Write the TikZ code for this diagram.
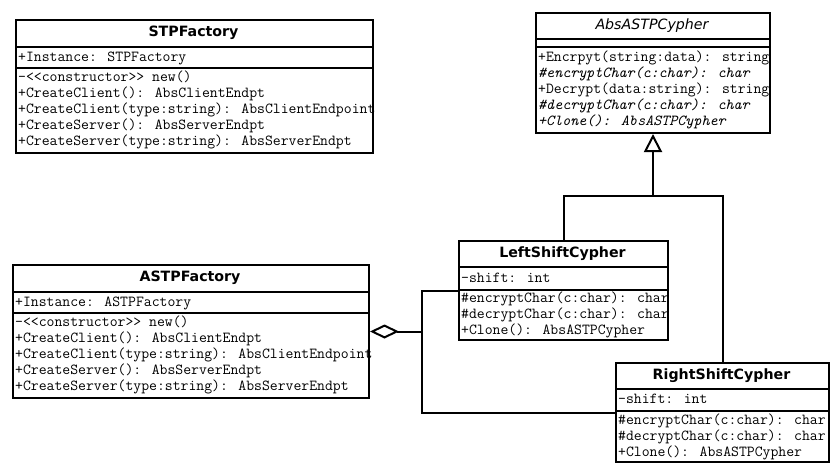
\documentclass[tikz,border=0pt]{standalone}
\usepackage{fontspec}
\usetikzlibrary{arrows.meta}
\newfontfamily\titlefont{DejaVu Sans}
\newcommand{\memfont}{\fontsize{15.3}{16}\selectfont\ttfamily}

\tikzset{
  classbox/.style={draw, line width=2pt, anchor=north west, inner sep=0pt, fill=white},
  classname/.style={font=\fontsize{14.2}{16}\selectfont\titlefont\bfseries, inner sep=0pt},
  absname/.style={font=\fontsize{14.2}{16}\selectfont\titlefont\itshape, inner sep=0pt},
  member/.style={anchor=west, inner sep=0pt, text height=11pt, text depth=4pt, font=\memfont},
  divider/.style={line width=2pt},
  link/.style={line width=2pt},
}

\begin{document}
\begin{tikzpicture}[x=1pt, y=-1pt]
    \useasboundingbox[fill=white] (0,0) rectangle (834,475);

    % STPFactory
    \node[classbox, minimum width=357pt, minimum height=133pt] (stp) at (15,19) {};
    \node[classname] (stp-name) at (193.5,33) {STPFactory};
    \draw[divider] (15,47) -- (372,47);
    \draw[divider] (15,68) -- (372,68);
    \node[member] (stp-a1) at (18,57.5) {+Instance: STPFactory};
    \foreach \y/\txt [count=\i] in {78/-<<constructor>> new(),
                                    94/+CreateClient(): AbsClientEndpt,
                                    110/+CreateClient(type:string): AbsClientEndpoint,
                                    126/+CreateServer(): AbsServerEndpt,
                                    142/+CreateServer(type:string): AbsServerEndpt} {
        \node[member] (stp-m\i) at (18,\y) {\txt};
    }

    % ASTPFactory
    \node[classbox, minimum width=356pt, minimum height=133pt] (astp) at (12,264) {};
    \node[classname] (astp-name) at (190,278) {ASTPFactory};
    \draw[divider] (12,292) -- (368,292);
    \draw[divider] (12,313) -- (368,313);
    \node[member] (astp-a1) at (15,302.5) {+Instance: ASTPFactory};
    \foreach \y/\txt [count=\i] in {323/-<<constructor>> new(),
                                    339/+CreateClient(): AbsClientEndpt,
                                    355/+CreateClient(type:string): AbsClientEndpoint,
                                    371/+CreateServer(): AbsServerEndpt,
                                    387/+CreateServer(type:string): AbsServerEndpt} {
        \node[member] (astp-m\i) at (15,\y) {\txt};
    }

    % AbsASTPCypher (abstract)
    \node[classbox, minimum width=234pt, minimum height=120pt] (abs) at (535,12) {};
    \node[absname] (abs-name) at (652,25.5) {AbsASTPCypher};
    \draw[divider] (535,39) -- (769,39);
    \draw[divider] (535,47) -- (769,47);
    \node[member] (abs-m1) at (538,58) {+Encrpyt(string:data): string};
    \node[member, font=\memfont\itshape] (abs-m2) at (538,74) {\#encryptChar(c:char): char};
    \node[member] (abs-m3) at (538,90) {+Decrypt(data:string): string};
    \node[member, font=\memfont\itshape] (abs-m4) at (538,106) {\#decryptChar(c:char): char};
    \node[member, font=\memfont\itshape] (abs-m5) at (538,122) {+Clone(): AbsASTPCypher};

    % LeftShiftCypher
    \node[classbox, minimum width=209pt, minimum height=99pt] (lsc) at (458,240) {};
    \node[classname] (lsc-name) at (562.5,253.5) {LeftShiftCypher};
    \draw[divider] (458,267) -- (667,267);
    \draw[divider] (458,290) -- (667,290);
    \node[member] (lsc-a1) at (461,278.5) {-shift: int};
    \foreach \y/\txt [count=\i] in {299/\#encryptChar(c:char): char,
                                    315/\#decryptChar(c:char): char,
                                    331/+Clone(): AbsASTPCypher} {
        \node[member] (lsc-m\i) at (461,\y) {\txt};
    }

    % RightShiftCypher
    \node[classbox, minimum width=213pt, minimum height=99pt] (rsc) at (615,362) {};
    \node[classname] (rsc-name) at (721.5,375.5) {RightShiftCypher};
    \draw[divider] (615,389) -- (828,389);
    \draw[divider] (615,411) -- (828,411);
    \node[member] (rsc-a1) at (618,400) {-shift: int};
    \foreach \y/\txt [count=\i] in {421/\#encryptChar(c:char): char,
                                    437/\#decryptChar(c:char): char,
                                    453/+Clone(): AbsASTPCypher} {
        \node[member] (rsc-m\i) at (618,\y) {\txt};
    }

    % aggregation
    \draw[link, {Diamond[open, length=29pt, width=14pt]}-] (astp.east) -- ++(52,0) coordinate (hub);
    \draw[link] (lsc.west) -| (hub) |- (rsc.west);

    % generalization
    \coordinate (junc) at ([yshift=-62pt]abs.south);
    \draw[link, -{Triangle[open, length=18pt, width=18pt]}] (junc) -- (abs.south);
    \draw[link] (lsc.north) |- (junc) -| (rsc.north);
\end{tikzpicture}
\end{document}
